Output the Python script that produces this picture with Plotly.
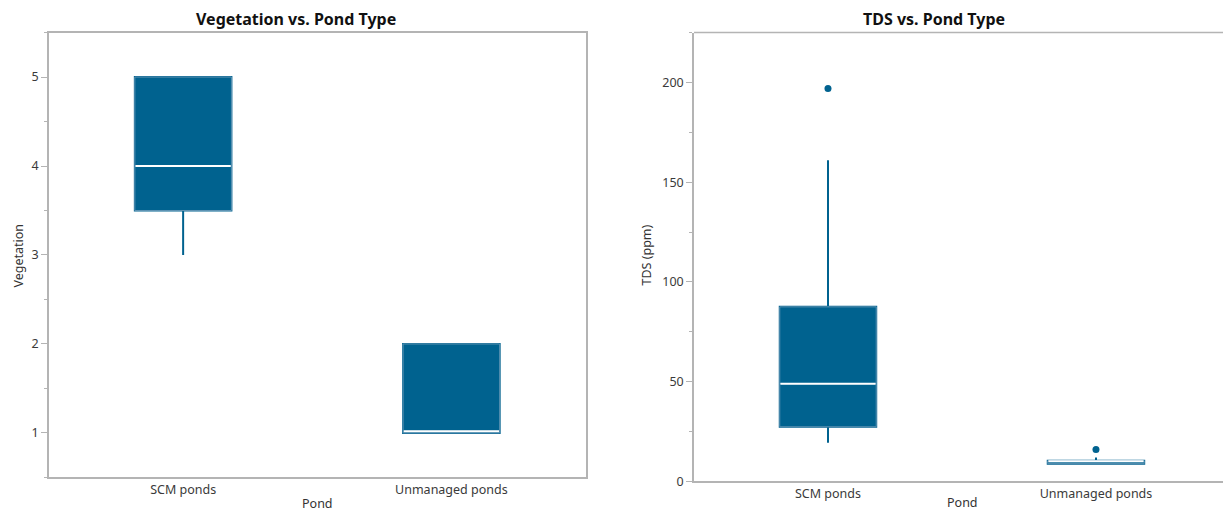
import plotly.graph_objects as go

categories = ["SCM ponds", "Unmanaged ponds"]

veg_min = [3.0, 1.0]
veg_q1 = [3.5, 1.0]
veg_median = [4.0, 1.02]
veg_q3 = [5.0, 2.0]
veg_max = [5.0, 2.0]

tds_min = [19.4, 8.9]
tds_q1 = [27.4, 8.9]
tds_median = [49.0, 10.1]
tds_q3 = [87.5, 10.4]
tds_max = [161.0, 12.0]
tds_outlier_cat = ["SCM ponds", "Unmanaged ponds"]
tds_outlier_val = [197.0, 16.0]

BLUE = "#00628f"
EDGE = "#5d93b3"
W = 1223
H = 520          # figure height; screen shows it at 511 px
S = H / 511.0    # screen-pixel -> figure-pixel factor (vertical)
FONT = "Noto Sans"

def fy(py):
    """paper y from a vertical screen position in pixels"""
    return 1 - py * S / H

fig = go.Figure()

def add_boxes(xa, ya, lo, q1, med, q3, hi):
    # whiskers
    fig.add_trace(go.Box(
        x=categories, lowerfence=lo, q1=q1, median=med, q3=q3, upperfence=hi,
        fillcolor=BLUE, line=dict(color=BLUE, width=2), width=0.36,
        boxpoints=False, whiskerwidth=0, xaxis=xa, yaxis=ya, showlegend=False,
        hoverinfo="skip"))
    # box body with lighter edge
    fig.add_trace(go.Box(
        x=categories, lowerfence=q1, q1=q1, median=med, q3=q3, upperfence=q3,
        fillcolor=BLUE, line=dict(color=EDGE, width=1), width=0.36,
        boxpoints=False, whiskerwidth=0, xaxis=xa, yaxis=ya, showlegend=False,
        hoverinfo="skip"))
    # white median line
    fig.add_trace(go.Box(
        x=categories, lowerfence=med, q1=med, median=med, q3=med, upperfence=med,
        fillcolor="rgba(0,0,0,0)", line=dict(color="white", width=2), width=0.355,
        boxpoints=False, whiskerwidth=0, xaxis=xa, yaxis=ya, showlegend=False,
        hoverinfo="skip"))

add_boxes("x", "y", veg_min, veg_q1, veg_median, veg_q3, veg_max)
add_boxes("x2", "y2", tds_min, tds_q1, tds_median, tds_q3, tds_max)

fig.add_trace(go.Scatter(x=tds_outlier_cat, y=tds_outlier_val, mode="markers",
                         marker=dict(color=BLUE, size=7), xaxis="x2", yaxis="y2",
                         showlegend=False))

axis_common = dict(showgrid=False, zeroline=False, showline=True, linecolor="#b4b4b4",
                   linewidth=1.5, tickcolor="#b4b4b4", ticklen=6,
                   tickfont=dict(family=FONT, size=12.5, color="#3a3a3a"))

fig.update_layout(
    width=W, height=H, margin=dict(l=0, r=0, t=0, b=0),
    plot_bgcolor="white", paper_bgcolor="white", boxmode="overlay",
    xaxis=dict(domain=[49 / W, 585.5 / W], type="category", range=[-0.5, 1.5],
               mirror=True, anchor="y", ticks="", **axis_common),
    yaxis=dict(domain=[fy(476.5), fy(32.5)], range=[0.5, 5.5], mirror=True,
               tickvals=[1, 2, 3, 4, 5], anchor="x", ticks="outside",
               minor=dict(dtick=0.5, ticks="outside", ticklen=3, tickcolor="#b4b4b4"),
               **axis_common),
    xaxis2=dict(domain=[694 / W, 1.0], type="category", range=[-0.5, 1.474],
                anchor="y2", ticks="", **axis_common),
    yaxis2=dict(domain=[fy(480.5), fy(32.5)], range=[0, 225],
                tickvals=[0, 50, 100, 150, 200], anchor="x2", ticks="outside",
                minor=dict(dtick=25, ticks="outside", ticklen=3, tickcolor="#b4b4b4"),
                **axis_common),
)

# top border of right panel (mirror only the top)
fig.add_shape(type="line", xref="x2 domain", yref="paper", x0=0, x1=1,
              y0=fy(32.5), y1=fy(32.5), line=dict(color="#b4b4b4", width=1.5))

ann_font = dict(family=FONT, size=12.5, color="#333333")
title_font = dict(family=FONT, size=16, color="#111111")

def ann(text, x, y, font, angle=0):
    fig.add_annotation(text=text, x=x / W, y=fy(y), xref="paper", yref="paper",
                       xanchor="center", yanchor="middle", showarrow=False,
                       textangle=angle, font=font)

ann("<b>Vegetation vs. Pond Type</b>", 296, 19, title_font)
ann("<b>TDS vs. Pond Type</b>", 934, 19, title_font)
ann("Pond", 317, 503, ann_font)
ann("Pond", 962, 502, ann_font)
ann("Vegetation", 18, 255, ann_font, -90)
ann("TDS (ppm)", 646, 255, ann_font, -90)

fig.write_html("out.html", config={"displayModeBar": False},
               post_script="document.body.style.margin='0';document.body.style.overflow='hidden';")
